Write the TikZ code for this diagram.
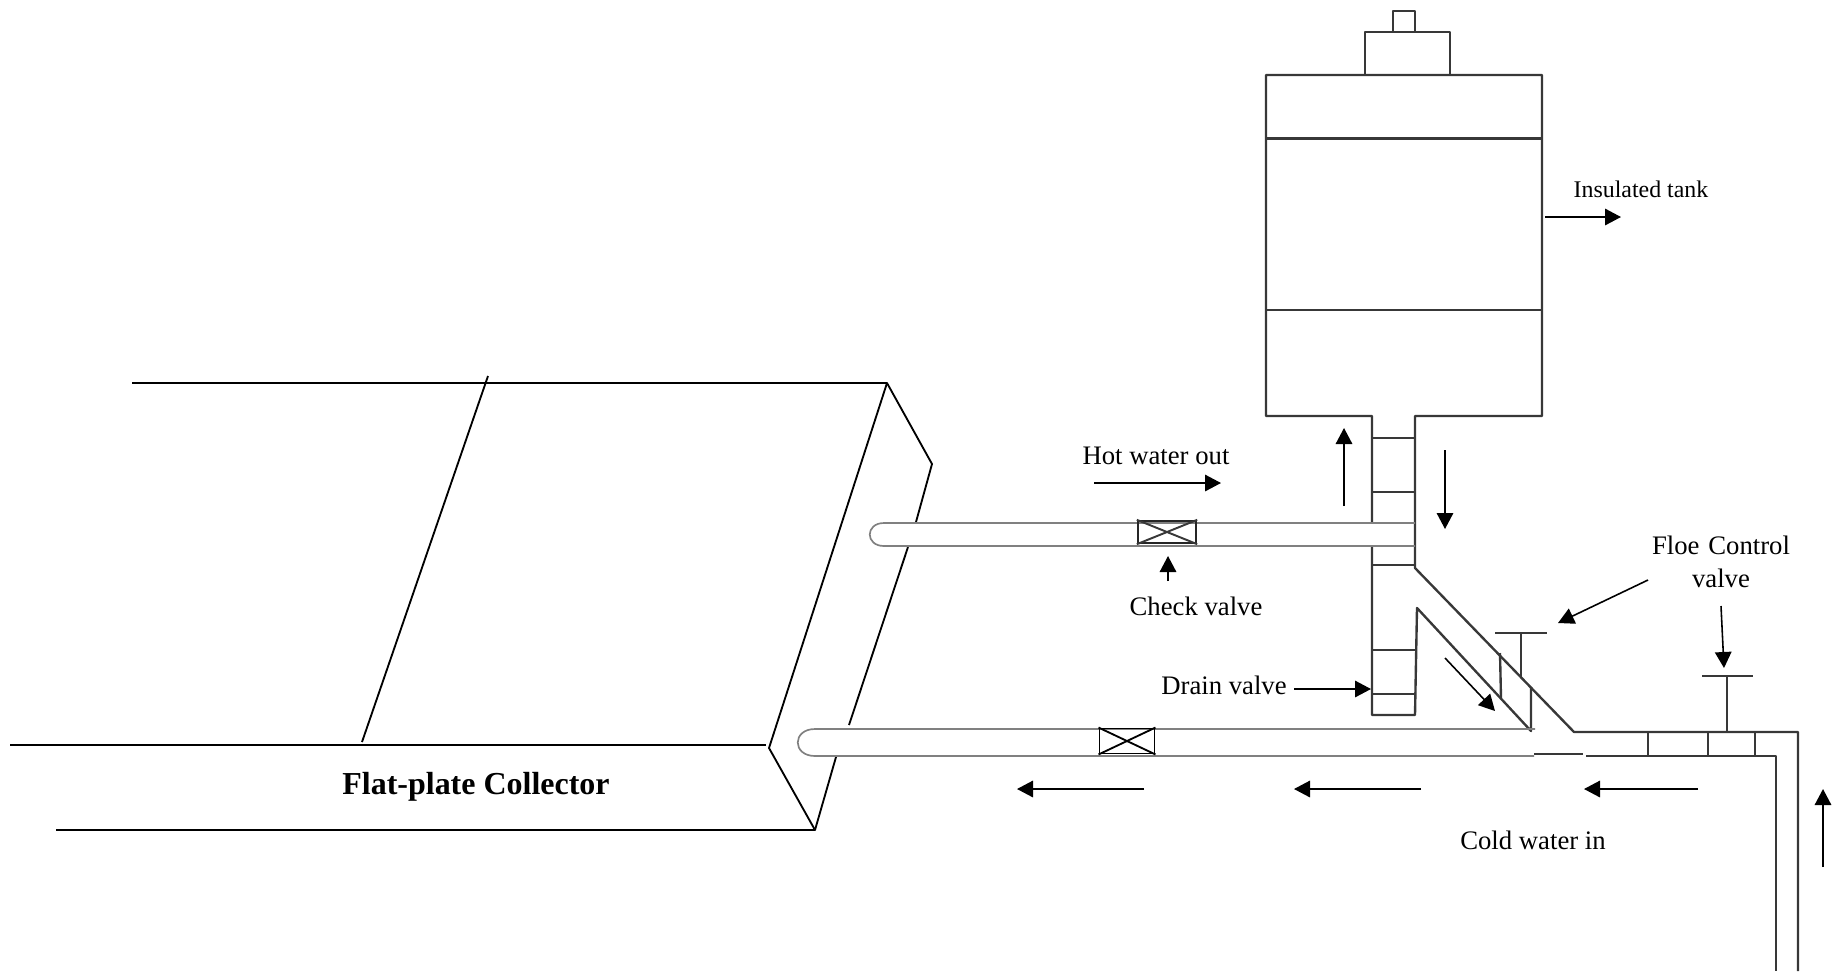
\documentclass[tikz,border=0pt]{standalone}
\usepackage{fontspec}
\setmainfont{Liberation Serif}
\usetikzlibrary{arrows.meta, positioning}

\begin{document}
\begin{tikzpicture}[
    x=0.02cm, y=-0.02cm,
    wall/.style = {draw=black!78, line width=1.35pt, line join=round},
    edge/.style = {draw=black, line width=1.05pt, line join=round},
    pipe/.style = {draw=black!50, line width=0.95pt},
    flow/.style = {-{Triangle[length=3.2mm, width=3.3mm]}, black, line width=0.9pt},
    tag/.style = {inner sep=0pt, font=\fontsize{15.2}{18}\selectfont, align=center},
    valve/.style = {rectangle, draw=black!85, line width=1.35pt, minimum width=1.12cm, minimum height=0.46cm, inner sep=0pt}
]
\useasboundingbox (0,0) rectangle (1843,971);

% collector
\draw[edge] (132,383) -- (887,383) -- (932,464) -- (916,522);
\draw[edge] (908,547) -- (849,725);
\draw[edge] (836,757) -- (815,830) -- (56,830);
\draw[edge] (887,383) -- (769,748) -- (815,830);
\draw[edge] (10,745) -- (766,745);
\draw[edge] (488,376) -- (362,742);
\node [tag, font=\fontsize{18.2}{22}\selectfont\bfseries] (collector) at (476,787) {Flat-plate Collector};

% tank
\draw[wall] (1372,522) -- (1372,416) -- (1266,416) -- (1266,75) -- (1542,75) -- (1542,416) -- (1415,416) -- (1415,568) -- (1574,732) -- (1798,732) -- (1798,971);
\draw[wall] (1266,138.5) -- (1542,138.5);
\draw[wall] (1266,310) -- (1542,310);
\draw[wall] (1365,75) -- (1365,32) -- (1450,32) -- (1450,75);
\draw[wall] (1393,32) -- (1393,11) -- (1415,11) -- (1415,32);

% riser and drain leg
\draw[wall] (1372,438) -- (1415,438);
\draw[wall] (1372,492) -- (1415,492);
\draw[wall] (1372,545) -- (1372,715) -- (1415,715) -- (1417,608) -- (1531,731) -- (1531,687);
\draw[wall] (1372,565) -- (1415,565);
\draw[wall] (1372,650) -- (1415,650);
\draw[wall] (1372,694) -- (1415,694);
\draw[wall] (1500,653) -- (1501,698);

% return line
\draw[wall] (1534,754) -- (1583,754);
\draw[wall] (1586,756) -- (1776,756) -- (1776,971);
\draw[wall] (1648,732) -- (1648,756);
\draw[wall] (1708,732) -- (1708,756);
\draw[wall] (1755,732) -- (1755,756);

% control valves
\draw[wall, line width=1.1pt] (1495,633) -- (1547,633);
\draw[wall, line width=1.1pt] (1521,633) -- (1521,678);
\draw[wall, line width=1.1pt] (1702,676) -- (1753,676);
\draw[wall, line width=1.1pt] (1727,676) -- (1727,732);

% collector pipes
\draw[pipe] (1415,523) -- (884,523) .. controls (865,523) and (865,546) .. (884,546) -- (1415,546);
\draw[pipe] (1535,729) -- (815,729) .. controls (792,729) and (792,756) .. (815,756) -- (1534,756);

\node [valve, minimum width=1.16cm, minimum height=0.44cm] (checkv) at (1167,532) {};
\draw[wall, line width=1.1pt] (checkv.north west) -- (checkv.south east);
\draw[wall, line width=1.1pt] (checkv.south west) -- (checkv.north east);
\node [valve, draw=black, line width=1.1pt, minimum width=1.1cm, minimum height=0.5cm] (lowerv) at (1127,741) {};
\draw[edge] (lowerv.north west) -- (lowerv.south east);
\draw[edge] (lowerv.south west) -- (lowerv.north east);

% labels
\node [tag, font=\fontsize{13.6}{16}\selectfont] (tanklabel) at (1641,189) {Insulated tank};
\node [tag] (hotlabel) at (1156,456) {Hot water out};
\node [tag] (checklabel) at (1196,606) {Check valve};
\node [tag] (drainlabel) at (1224,685) {Drain valve};
\node [tag] (coldlabel) at (1533,840) {Cold water in};
\node [tag, text width=3.4cm, font=\fontsize{15.2}{18.5}\selectfont] (floelabel) at (1721,562) {Floe Control\\ valve};

% arrow ends
\coordinate (tanktip) at (1621,217);
\coordinate (tankend) at (1545,217);
\coordinate (hotstart) at (1094,483);
\coordinate (hottip) at (1221,483);
\coordinate (checkstart) at (1168,581);
\coordinate (checktip) at (1168,556);
\coordinate (drainstart) at (1294,689);
\coordinate (draintip) at (1371,689);
\coordinate (upstart) at (1344,506);
\coordinate (uptip) at (1344,428);
\coordinate (downstart) at (1445,450);
\coordinate (downtip) at (1445,529);
\coordinate (floeastart) at (1648,580);
\coordinate (floeatip) at (1558,623);
\coordinate (floebstart) at (1721,606);
\coordinate (floebtip) at (1724,668);
\coordinate (diagstart) at (1445,658);
\coordinate (diagtip) at (1495,711);
\coordinate (returnstart) at (1823,867);
\coordinate (returntip) at (1823,789);
\coordinate (colastart) at (1698,789);
\coordinate (colatip) at (1584,789);
\coordinate (colbstart) at (1421,789);
\coordinate (colbtip) at (1294,789);
\coordinate (colcstart) at (1144,789);
\coordinate (colctip) at (1017,789);

\draw[flow] (tankend) -- (tanktip);
\draw[flow] (hotstart) -- (hottip);
\draw[flow] (checkstart) -- (checktip);
\draw[flow] (drainstart) -- (draintip);
\draw[flow] (upstart) -- (uptip);
\draw[flow] (downstart) -- (downtip);
\draw[flow] (floeastart) -- (floeatip);
\draw[flow] (floebstart) -- (floebtip);
\draw[flow] (diagstart) -- (diagtip);
\draw[flow] (returnstart) -- (returntip);
\draw[flow] (colastart) -- (colatip);
\draw[flow] (colbstart) -- (colbtip);
\draw[flow] (colcstart) -- (colctip);

\end{tikzpicture}
\end{document}
